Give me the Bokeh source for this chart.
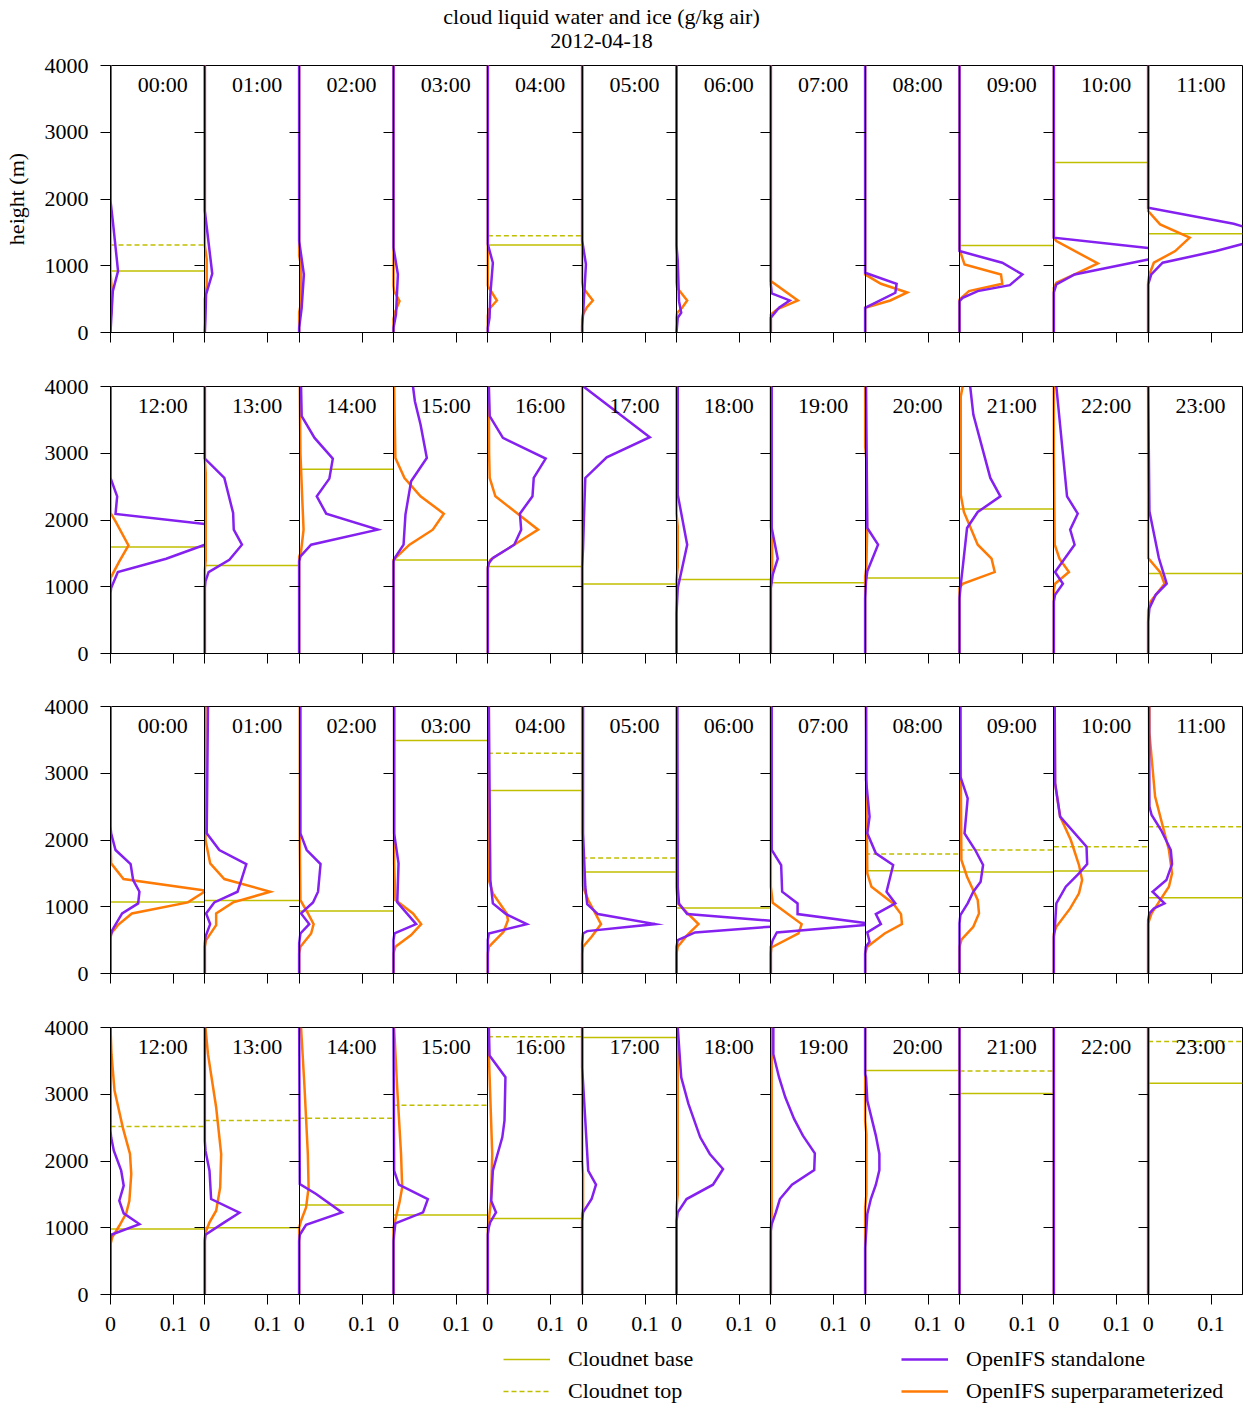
import math
import numpy as np
from bokeh.plotting import figure
from bokeh.models import (Range1d, LinearAxis, FixedTicker, Label, Legend, LegendItem,
                          CustomJSTickFormatter)
from bokeh.layouts import column
from bokeh.embed import file_html
from bokeh.resources import INLINE

# ---------------- data ----------------
panel_max = 0.15           # x-range of every panel (g/kg)
height_max = 4000          # y-range (m)
y_ticks = [0, 1000, 2000, 3000, 4000]
x_ticks = [0, 0.1]
x_tick_labels = ["0", "0.1"]

title_line1 = "cloud liquid water and ice (g/kg air)"
title_line2 = "2012-04-18"

hours_am = ["00:00", "01:00", "02:00", "03:00", "04:00", "05:00",
            "06:00", "07:00", "08:00", "09:00", "10:00", "11:00"]
hours_pm = ["12:00", "13:00", "14:00", "15:00", "16:00", "17:00",
            "18:00", "19:00", "20:00", "21:00", "22:00", "23:00"]

# profiles as (value g/kg, height m)
row1_standalone = [
    [(0, 1970), (0.0037, 1670), (0.012, 920), (0.0037, 620), (0.001, 170)],
    [(0, 1820), (0.0118, 880), (0.002, 570), (0.001, 220)],
    [(0, 1370), (0.0075, 870), (0.004, 370), (0, 70)],
    [(0, 1270), (0.007, 870), (0.004, 270), (0, 70)],
    [(0, 1320), (0.008, 1045), (0.004, 570), (0.0027, 220), (0, 70)],
    [(0, 1380), (0.006, 1020), (0.0014, 270), (0, 100)],
    [(0, 1300), (0.002, 1070), (0.004, 470), (0.0075, 295), (0.002, 220)],
    [(0, 720), (0.0014, 585), (0.030, 480), (0.013, 370), (0, 220)],
    [(0, 895), (0.050, 730), (0.048, 595), (0, 370)],
    [(0, 1220), (0.068, 1045), (0.1, 870), (0.08, 710), (0.029, 620), (0.005, 520), (0, 470)],
    [(0, 1420), (0.155, 1260), (0.2, 1180), (0.15, 1095), (0.033, 870), (0.004, 720), (0, 600)],
    [(0, 1870), (0.136, 1630), (0.2, 1450), (0.108, 1220), (0.023, 1045), (0.005, 870), (0, 720)],
]
row1_superparam = [
    [(0, 900), (0.002, 650), (0.002, 350), (0, 200)],
    [(0, 1300), (0.003, 1100), (0.003, 700), (0, 500)],
    [(0, 1150), (0.003, 1000), (0.003, 450), (0, 300)],
    [(0, 700), (0.001, 620), (0.0096, 470), (0.003, 320), (0, 200)],
    [(0, 700), (0.0016, 670), (0.0144, 480), (0.0016, 345), (0, 250)],
    [(0, 750), (0.0014, 670), (0.017, 480), (0.007, 370), (0.0014, 270), (0, 200)],
    [(0, 750), (0.001, 670), (0.017, 480), (0.009, 370), (0.001, 295), (0, 220)],
    [(0, 770), (0.043, 480), (0.0096, 345), (0, 270)],
    [(0, 870), (0.025, 730), (0.067, 600), (0.04, 480), (0, 370)],
    [(0, 1245), (0.008, 1020), (0.066, 870), (0.068, 730), (0.015, 620), (0, 495)],
    [(0, 1420), (0.004, 1370), (0.070, 1035), (0.033, 870), (0.004, 745), (0, 670)],
    [(0, 1820), (0.019, 1620), (0.066, 1420), (0.043, 1220), (0.009, 1045), (0.002, 870), (0, 770)],
]
row1_base = [920, None, None, None, 1310, None, None, None, None, 1305, 2545, 1480]
row1_top = [1310, None, None, None, 1450, None, None, None, None, None, None, None]

row2_standalone = [
    [(0, 2630), (0.0106, 2355), (0.008, 2090), (0.22, 1867), (0.0885, 1420), (0.0117, 1220), (0.001, 980), (0, 900)],
    [(0, 2920), (0.031, 2630), (0.045, 2105), (0.046, 1855), (0.059, 1630), (0.039, 1405), (0.006, 1220), (0.001, 1080), (0, 980)],
    [(0.003, 4000), (0.004, 3555), (0.0245, 3230), (0.0535, 2920), (0.048, 2620), (0.028, 2355), (0.043, 2095), (0.125, 1855), (0.019, 1630), (0.002, 1455), (0, 1380)],
    [(0.031, 4000), (0.034, 3780), (0.043, 3430), (0.053, 2930), (0.028, 2580), (0.019, 2080), (0.016, 1630), (0.002, 1430), (0, 1380)],
    [(0.0016, 4000), (0.003, 3555), (0.024, 3230), (0.092, 2920), (0.073, 2630), (0.071, 2355), (0.051, 2095), (0.053, 1855), (0.042, 1630), (0.008, 1430), (0.0016, 1355), (0, 1280)],
    [(0.002, 4000), (0.1075, 3240), (0.039, 2940), (0.005, 2630), (0.003, 2080), (0.0014, 1580), (0, 1300)],
    [(0.002, 4000), (0.002, 2380), (0.017, 1630), (0.009, 1280), (0.002, 980), (0, 600)],
    [(0.0014, 4000), (0.0014, 1880), (0.011, 1420), (0.003, 1180), (0, 980)],
    [(0.0014, 4000), (0.0034, 1880), (0.0205, 1630), (0.0034, 1230), (0.0014, 1080), (0, 830)],
    [(0.017, 4000), (0.022, 3580), (0.049, 2630), (0.065, 2355), (0.029, 2120), (0.012, 1880), (0.005, 1280), (0.002, 1030), (0, 830)],
    [(0.004, 4000), (0.021, 2355), (0.038, 2095), (0.026, 1855), (0.033, 1630), (0.002, 1220), (0.0144, 1045), (0.002, 880), (0, 780)],
    [(0, 4000), (0.002, 2130), (0.017, 1430), (0.0295, 1045), (0.012, 880), (0.002, 680), (0, 480)],
]
row2_superparam = [
    [(0, 2105), (0.008, 1980), (0.0286, 1620), (0.014, 1380), (0, 1130)],
    [(0, 2900), (0.0015, 2700), (0.0015, 1400), (0, 1250)],
    [(0.001, 4000), (0.002, 3000), (0.005, 2300), (0.007, 1855), (0.003, 1530), (0, 1450)],
    [(0.001, 4000), (0.003, 2930), (0.0175, 2630), (0.043, 2355), (0.080, 2095), (0.0625, 1855), (0.0255, 1630), (0, 1405)],
    [(0.0016, 4000), (0.002, 3000), (0.003, 2630), (0.012, 2355), (0.080, 1855), (0.004, 1405), (0, 1300)],
    [],
    [(0, 2100), (0.002, 1900), (0.002, 1300), (0, 1100)],
    [(0, 1900), (0.002, 1700), (0.002, 1250), (0, 1100)],
    [(0, 3100), (0.002, 2900), (0.003, 1800), (0.002, 1300), (0, 1150)],
    [(0.005, 4000), (0.002, 3850), (0.002, 2380), (0.007, 2120), (0.029, 1630), (0.051, 1420), (0.056, 1220), (0.005, 1045), (0, 980)],
    [(0, 3000), (0.0014, 1630), (0.009, 1420), (0.024, 1220), (0.002, 1045), (0, 955)],
    [(0, 1430), (0.019, 1220), (0.026, 1045), (0.004, 780), (0, 650)],
]
row2_base = [1595, 1320, 2760, 1400, 1305, 1040, 1110, 1060, 1130, 2165, None, 1200]
row2_top = [None] * 12

row3_standalone = [
    [(0, 2200), (0.001, 2100), (0.008, 1850), (0.032, 1640), (0.036, 1400), (0.046, 1225), (0.044, 1050), (0.0185, 900), (0.0027, 650), (0, 550)],
    [(0.005, 4000), (0.003, 2100), (0.023, 1850), (0.066, 1640), (0.058, 1400), (0.052, 1225), (0.015, 1065), (0.002, 900), (0.0085, 740), (0.001, 550), (0, 450)],
    [(0.002, 4000), (0.002, 2100), (0.012, 1850), (0.034, 1640), (0.030, 1225), (0.022, 1065), (0.003, 900), (0.016, 740), (0.002, 600), (0, 450)],
    [(0.001, 4000), (0.001, 2100), (0.008, 1650), (0.006, 1065), (0.036, 740), (0.0016, 600), (0, 500)],
    [(0.0016, 4000), (0.004, 1400), (0.008, 1050), (0.029, 890), (0.062, 740), (0.0016, 600), (0, 500)],
    [(0.0014, 4000), (0.0014, 2100), (0.005, 1300), (0.008, 1040), (0.025, 890), (0.116, 740), (0.008, 635), (0.0014, 600), (0, 450)],
    [(0.0014, 4000), (0.002, 1300), (0.004, 1050), (0.017, 890), (0.21, 744), (0.0295, 615), (0.002, 500), (0, 400)],
    [(0.0014, 4000), (0.0014, 1850), (0.0164, 1625), (0.018, 1225), (0.0425, 1050), (0.0425, 890), (0.164, 739), (0.0096, 615), (0.003, 500), (0, 400)],
    [(0.0014, 4000), (0.0014, 2900), (0.007, 2350), (0.0034, 2100), (0.017, 1800), (0.0445, 1625), (0.034, 1225), (0.048, 1050), (0.017, 890), (0.025, 740), (0.0034, 615), (0.007, 475), (0.001, 400), (0, 300)],
    [(0.0014, 4000), (0.0014, 2950), (0.013, 2625), (0.008, 2100), (0.025, 1850), (0.0375, 1625), (0.0336, 1375), (0.022, 1225), (0.013, 1050), (0.0014, 875), (0, 750)],
    [(0.0014, 4000), (0.002, 2850), (0.010, 2350), (0.052, 1900), (0.053, 1640), (0.040, 1500), (0.019, 1300), (0.004, 1050), (0.0014, 650), (0, 550)],
    [(0.0014, 4000), (0.002, 2500), (0.0055, 2375), (0.0205, 2150), (0.036, 1850), (0.038, 1640), (0.029, 1400), (0.007, 1225), (0.026, 1050), (0.009, 975), (0.002, 900), (0, 800)],
]
row3_superparam = [
    [(0, 2000), (0.001, 1650), (0.0207, 1415), (0.152, 1240), (0.123, 1065), (0.034, 900), (0.0117, 725), (0.001, 600), (0, 500)],
    [(0.001, 4000), (0.001, 2000), (0.0085, 1650), (0.031, 1415), (0.104, 1225), (0.045, 1065), (0.018, 900), (0.018, 725), (0.002, 500), (0, 400)],
    [(0.001, 4000), (0.001, 2000), (0.002, 1100), (0.014, 900), (0.023, 740), (0.019, 600), (0.002, 400), (0, 300)],
    [(0.001, 4000), (0.001, 1650), (0.003, 1100), (0.031, 900), (0.044, 740), (0.028, 575), (0.003, 400), (0, 300)],
    [(0.0016, 4000), (0.0016, 1400), (0.008, 1200), (0.030, 900), (0.032, 800), (0.025, 625), (0.0016, 400), (0, 300)],
    [(0, 2100), (0.0014, 1300), (0.0096, 1100), (0.030, 740), (0.015, 550), (0.0014, 400), (0, 300)],
    [(0, 1300), (0.002, 1050), (0.019, 890), (0.035, 740), (0.017, 575), (0.002, 400), (0, 300)],
    [(0, 1300), (0.003, 1060), (0.049, 740), (0.044, 600), (0.001, 390), (0, 300)],
    [(0.0014, 4000), (0.003, 1850), (0.0034, 1500), (0.010, 1300), (0.0445, 1050), (0.057, 890), (0.0585, 740), (0.031, 600), (0.0034, 400), (0, 300)],
    [(0.0014, 4000), (0.003, 1700), (0.012, 1450), (0.029, 1100), (0.031, 900), (0.022, 700), (0.0034, 510), (0, 400)],
    [(0.0014, 4000), (0.002, 2850), (0.010, 2350), (0.027, 2000), (0.040, 1625), (0.045, 1400), (0.040, 1200), (0.026, 975), (0.004, 700), (0, 600)],
    [(0.002, 4000), (0.002, 3600), (0.011, 2650), (0.033, 1850), (0.038, 1500), (0.033, 1300), (0.019, 1100), (0.0055, 900), (0, 750)],
]
row3_base = [1070, 1095, 935, 3490, 2740, 1520, 980, None, 1540, 1520, 1535, 1135]
row3_top = [None, None, None, None, 3300, 1730, None, None, 1790, 1850, 1900, 2200]

row4_standalone = [
    [(0, 2450), (0.001, 2355), (0.0053, 2155), (0.017, 1855), (0.021, 1630), (0.014, 1405), (0.021, 1215), (0.046, 1055), (0.001, 895), (0, 800)],
    [(0, 2300), (0.001, 2155), (0.0074, 1855), (0.010, 1430), (0.055, 1225), (0.031, 1080), (0.001, 895), (0, 800)],
    [(0, 4000), (0.001, 1655), (0.027, 1505), (0.068, 1230), (0.011, 1045), (0.001, 895), (0, 800)],
    [(0, 4000), (0.001, 1855), (0.0085, 1645), (0.0546, 1430), (0.047, 1230), (0.003, 1065), (0.001, 905), (0, 800)],
    [(0.0016, 4000), (0.0027, 3580), (0.028, 3255), (0.0265, 2605), (0.023, 2355), (0.008, 1855), (0.0053, 1405), (0.013, 1230), (0.0037, 1080), (0.0016, 1005), (0, 900)],
    [(0, 3400), (0.005, 2605), (0.0096, 1855), (0.022, 1645), (0.015, 1430), (0.0014, 1230), (0, 1100)],
    [(0.002, 4000), (0.0075, 3255), (0.019, 2855), (0.0377, 2355), (0.053, 2105), (0.074, 1880), (0.058, 1645), (0.016, 1430), (0.002, 1230), (0, 1100)],
    [(0.004, 4000), (0.004, 3600), (0.013, 3255), (0.023, 2955), (0.037, 2630), (0.051, 2380), (0.070, 2115), (0.069, 1865), (0.0336, 1645), (0.0144, 1430), (0.008, 1230), (0.0014, 1055), (0, 950)],
    [(0, 3300), (0.0014, 3255), (0.0034, 2905), (0.017, 2380), (0.0226, 2105), (0.0226, 1865), (0.017, 1645), (0.009, 1430), (0.0034, 1205), (0.0014, 905), (0, 700)],
    [],
    [],
    [],
]
row4_superparam = [
    [(0, 4000), (0.0016, 3600), (0.0064, 3055), (0.0196, 2500), (0.031, 2105), (0.033, 1805), (0.030, 1405), (0.025, 1215), (0.014, 1030), (0.0027, 855), (0, 750)],
    [(0.001, 4000), (0.005, 3600), (0.018, 2805), (0.026, 2105), (0.0244, 1605), (0.018, 1255), (0.0074, 1080), (0.001, 930), (0, 850)],
    [(0.003, 4000), (0.0085, 3105), (0.0138, 2105), (0.015, 1605), (0.011, 1305), (0.003, 1105), (0, 1000)],
    [(0.001, 4000), (0.0058, 3105), (0.012, 2105), (0.0138, 1605), (0.0095, 1380), (0.002, 1080), (0, 1000)],
    [(0.0016, 4000), (0.0016, 3600), (0.007, 2105), (0.005, 1405), (0.0016, 1105), (0, 1000)],
    [(0, 2000), (0.0014, 1800), (0.0014, 1300), (0, 1200)],
    [(0.002, 4000), (0.002, 1500), (0, 1300)],
    [(0.0014, 4000), (0.0014, 1200), (0, 1000)],
    [(0, 2600), (0.002, 2400), (0.002, 1500), (0, 1300)],
    [],
    [],
    [],
]
row4_base = [980, 1000, 1340, 1190, 1140, 3850, None, None, 3355, 3010, None, 3165]
row4_top = [2515, 2605, 2640, 2835, 3860, None, None, None, None, 3350, None, 3790]

legend_labels = ["Cloudnet base", "Cloudnet top", "OpenIFS standalone", "OpenIFS superparameterized"]

# ---------------- style ----------------
FONT = "Liberation Serif"
FS = "22px"
C_SA = "#8420f0"
C_SP = "#ff7a05"
C_CN = "#bfbf00"
NP = 12
FRAME_W = 1132
FRAME_H = 267
B_LEFT = 110
B_RIGHT = 12


def profile_xy(points, xmax):
    """Close profile to zero at bottom/top and clip it at the panel's right edge."""
    pts = sorted(points, key=lambda p: p[1])
    if not pts:
        pts = [(0.0, 0.0), (0.0, float(height_max))]
    if pts[0][1] > 0:
        pts = [(0.0, 0.0)] + pts
    if pts[-1][1] < height_max:
        pts = pts + [(0.0, float(height_max) + 100)]
    xs, ys = [], []
    prev = None
    for (x, y) in pts:
        if prev is not None:
            x0, y0 = prev
            if (x0 <= xmax) != (x <= xmax):
                t = (xmax - x0) / (x - x0)
                xs.append(xmax)
                ys.append(y0 + t * (y - y0))
                if x > xmax:
                    xs.append(math.nan)
                    ys.append(math.nan)
        if x <= xmax:
            xs.append(x)
            ys.append(y)
        prev = (x, y)
    return np.array(xs, dtype=float), np.array(ys, dtype=float)


def make_row(labels, sa, sp, base, top, first=False, last=False, bottom_border=42):
    p = figure(frame_width=FRAME_W, frame_height=FRAME_H,
               x_range=Range1d(0, NP * panel_max), y_range=Range1d(0, height_max),
               x_axis_location=None, y_axis_location=None,
               toolbar_location=None, output_backend="svg",
               min_border_left=B_LEFT, min_border_right=B_RIGHT, min_border_top=12,
               min_border_bottom=bottom_border)
    p.grid.visible = False
    p.outline_line_color = "black"
    p.outline_line_width = 1
    p.background_fill_color = "white"
    p.border_fill_color = "white"
    p.extra_x_ranges = {f"p{k}": Range1d(-k * panel_max, (NP - k) * panel_max) for k in range(NP)}

    # left axis with labels
    yax = LinearAxis(ticker=FixedTicker(ticks=y_ticks),
                     major_tick_out=10, major_tick_in=0, minor_tick_line_color=None,
                     major_label_standoff=12, axis_line_color="black",
                     major_tick_line_color="black",
                     major_label_text_font=FONT, major_label_text_font_size=FS,
                     major_label_text_color="black")
    if first:
        yax.axis_label = "height (m)"
        yax.axis_label_text_font = FONT
        yax.axis_label_text_font_size = FS
        yax.axis_label_text_font_style = "normal"
        yax.axis_label_standoff = 13
        yax.axis_label_text_color = "black"
    p.add_layout(yax, "left")

    # bottom axis: ticks at 0 and 0.1 of every panel
    tick_pos = [k * panel_max + t for k in range(NP) for t in x_ticks]
    tick_lab = [lab for k in range(NP) for lab in x_tick_labels] if last else ["" for _ in tick_pos]
    fmt = CustomJSTickFormatter(args=dict(pos=tick_pos, lab=tick_lab), code="""
        let best = 0; let d = Infinity;
        for (let i = 0; i < pos.length; i++) {
            const e = Math.abs(pos[i] - tick);
            if (e < d) { d = e; best = i; }
        }
        return lab[best];
    """)
    xa = LinearAxis(ticker=FixedTicker(ticks=tick_pos), formatter=fmt,
                    major_tick_out=10, major_tick_in=0, minor_tick_line_color=None,
                    axis_line_color="black", major_tick_line_color="black",
                    major_label_standoff=12, major_label_text_font=FONT,
                    major_label_text_font_size=FS if last else "0px",
                    major_label_text_color="black")
    p.add_layout(xa, "below")

    for k in range(NP):
        rn = f"p{k}"
        if k > 0:
            b = LinearAxis(x_range_name=rn, fixed_location=0,
                           ticker=FixedTicker(ticks=y_ticks),
                           major_tick_out=10, major_tick_in=0, minor_tick_line_color=None,
                           axis_line_color="black", major_tick_line_color="black",
                           formatter=CustomJSTickFormatter(code="return '';"),
                           major_label_text_font_size="0px")
            p.add_layout(b, "left")

        if base[k] is not None:
            p.segment(x0=[0.0], y0=[base[k]], x1=[panel_max], y1=[base[k]],
                      x_range_name=rn, line_color=C_CN, line_width=1.5)
        if top[k] is not None:
            p.segment(x0=[0.0], y0=[top[k]], x1=[panel_max], y1=[top[k]],
                      x_range_name=rn, line_color=C_CN, line_width=1.5, line_dash="5 3")
        xs, ys = profile_xy(sp[k], panel_max)
        p.line(xs, ys, x_range_name=rn, line_color=C_SP, line_width=2.5, line_join="miter")
        xs, ys = profile_xy(sa[k], panel_max)
        p.line(xs, ys, x_range_name=rn, line_color=C_SA, line_width=2.5, line_join="miter")

        p.add_layout(Label(x=panel_max, y=height_max, x_range_name=rn,
                           x_offset=-17, y_offset=-19, text=labels[k],
                           text_align="right", text_baseline="middle",
                           text_font=FONT, text_font_size=FS, text_color="black"))
    return p


# title
tf = figure(frame_width=FRAME_W, frame_height=53, x_range=Range1d(0, 1), y_range=Range1d(0, 1),
            x_axis_location=None, y_axis_location=None, toolbar_location=None,
            output_backend="svg", min_border_left=B_LEFT, min_border_right=B_RIGHT,
            min_border_top=0, min_border_bottom=0)
tf.grid.visible = False
tf.outline_line_color = None
tf.add_layout(Label(x=491, y=37, x_units="screen", y_units="screen", text=title_line1,
                    text_align="center", text_baseline="middle",
                    text_font=FONT, text_font_size=FS, text_color="black"))
tf.add_layout(Label(x=491, y=13, x_units="screen", y_units="screen", text=title_line2,
                    text_align="center", text_baseline="middle",
                    text_font=FONT, text_font_size=FS, text_color="black"))

r1 = make_row(hours_am, row1_standalone, row1_superparam, row1_base, row1_top, first=True, bottom_border=42)
r2 = make_row(hours_pm, row2_standalone, row2_superparam, row2_base, row2_top, bottom_border=41)
r3 = make_row(hours_am, row3_standalone, row3_superparam, row3_base, row3_top, bottom_border=42)
r4 = make_row(hours_pm, row4_standalone, row4_superparam, row4_base, row4_top, last=True, bottom_border=48)

# legend panel: key glyphs come from the first 12:00 panel's series (kept outside this
# panel's visible y-range, so only the legend swatches are drawn)
lf = figure(frame_width=FRAME_W, frame_height=65, x_range=Range1d(0, panel_max),
            y_range=Range1d(-2 * height_max, -height_max),
            x_axis_location=None, y_axis_location=None, toolbar_location=None,
            output_backend="svg", min_border_left=B_LEFT, min_border_right=B_RIGHT,
            min_border_top=0, min_border_bottom=0)
lf.grid.visible = False
lf.outline_line_color = None
g_base = lf.segment(x0=[0.0], y0=[row4_base[0]], x1=[panel_max], y1=[row4_base[0]],
                    line_color=C_CN, line_width=1.5)
g_top = lf.segment(x0=[0.0], y0=[row4_top[0]], x1=[panel_max], y1=[row4_top[0]],
                   line_color=C_CN, line_width=1.5, line_dash="5 3")
xs, ys = profile_xy(row4_standalone[0], panel_max)
g_sa = lf.line(xs, ys, line_color=C_SA, line_width=2.5)
xs, ys = profile_xy(row4_superparam[0], panel_max)
g_sp = lf.line(xs, ys, line_color=C_SP, line_width=2.5)
legend = Legend(items=[LegendItem(label=legend_labels[0], renderers=[g_base]),
                       LegendItem(label=legend_labels[1], renderers=[g_top]),
                       LegendItem(label=legend_labels[2], renderers=[g_sa]),
                       LegendItem(label=legend_labels[3], renderers=[g_sp])],
                location=(393, 3), orientation="vertical", nrows=2,
                glyph_width=47, glyph_height=22, label_height=22, label_width=327,
                label_standoff=18, spacing=6, padding=0, margin=0,
                border_line_color=None, background_fill_alpha=0,
                label_text_font=FONT, label_text_font_size=FS, label_text_color="black")
lf.add_layout(legend, "center")

layout = column(tf, r1, r2, r3, r4, lf, spacing=0)
open("out.html", "w").write(file_html(layout, INLINE))
